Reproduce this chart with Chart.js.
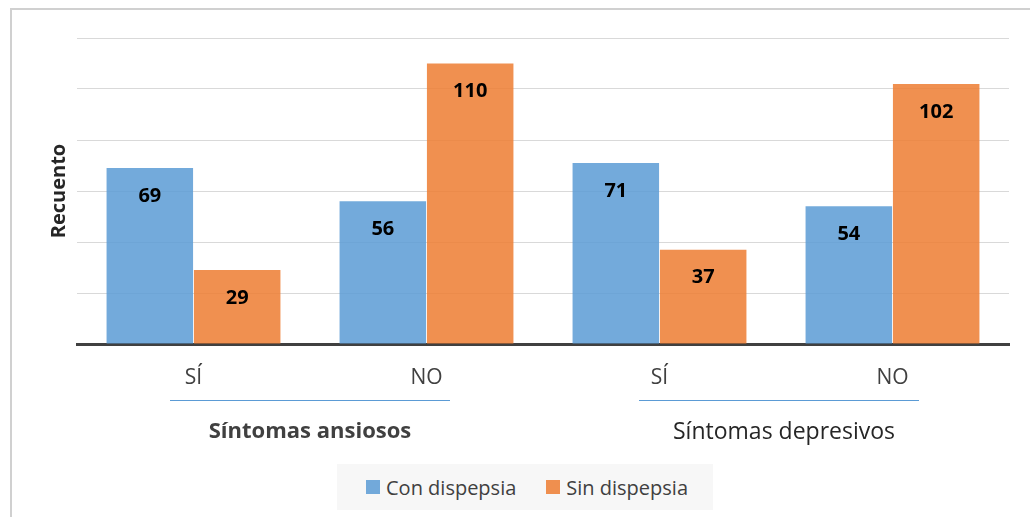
<!DOCTYPE html>
<html>
<head>
<meta charset="utf-8">
<script src="https://cdn.jsdelivr.net/npm/chart.js@4/dist/chart.umd.min.js"></script>
<style>
  html, body { margin: 0; padding: 0; background: #ffffff; }
  #wrap { position: relative; width: 1030px; height: 517px; overflow: hidden; }
  #frame { position: absolute; left: 10px; top: 8px; width: 1040px; height: 540px; border: 2px solid #d0d0d0; box-sizing: border-box; }
  canvas { position: absolute; left: 0; top: 0; }
  #legend { position: absolute; left: 337px; top: 464px; width: 376px; height: 46px; background: #f7f7f7; box-sizing: border-box; padding-left: 29px;
            display: flex; align-items: center; justify-content: flex-start; font-family: "Open Sans", sans-serif; font-size: 20px; color: #404040; white-space: nowrap; }
  .item { display: flex; align-items: center; margin-right: 30px; flex-shrink: 0; white-space: nowrap; }
  .sw { width: 14px; height: 14px; margin-right: 6px; flex-shrink: 0; }
</style>
</head>
<body>
<div id="wrap">
  <div id="frame"></div>
  <canvas id="c" width="1030" height="517"></canvas>
  <div id="legend"></div>
</div>
<script>
const categories = ['SÍ', 'NO', 'SÍ', 'NO'];
const groupLabels = ['Síntomas ansiosos', 'Síntomas depresivos'];
const seriesNames = ['Con dispepsia', 'Sin dispepsia'];
const conDispepsia = [69, 56, 71, 54];
const sinDispepsia = [29, 110, 37, 102];
const yTickValues = [0, 20, 40, 60, 80, 100, 120];
const axisTitle = 'Recuento';

const colors = ['rgba(91,155,213,0.85)', 'rgba(237,125,49,0.85)'];
const FONT = '"Open Sans", sans-serif';

const extras = {
  id: 'extras',
  afterDatasetsDraw(chart) {
    const ctx = chart.ctx;
    ctx.save();
    ctx.fillStyle = '#000000';
    ctx.font = 'bold 20px ' + FONT;
    ctx.textAlign = 'center';
    ctx.textBaseline = 'middle';
    chart.data.datasets.forEach((ds, i) => {
      chart.getDatasetMeta(i).data.forEach((bar, j) => {
        ctx.fillText(String(ds.data[j]), bar.x, bar.y + 28);
      });
    });
    ctx.restore();
  },
  afterDraw(chart) {
    const ctx = chart.ctx;
    const xs = chart.scales.x;
    const area = chart.chartArea;
    ctx.save();
    ctx.translate(59, (area.top + area.bottom) / 2);
    ctx.rotate(-Math.PI / 2);
    ctx.font = 'bold 20px ' + FONT;
    ctx.fillStyle = '#262626';
    ctx.textAlign = 'center';
    ctx.textBaseline = 'middle';
    ctx.fillText(axisTitle, 0, 0);
    ctx.restore();

    ctx.save();
    groupLabels.forEach((g, gi) => {
      const cx = (xs.getPixelForValue(gi * 2) + xs.getPixelForValue(gi * 2 + 1)) / 2;
      ctx.strokeStyle = '#5B9BD5';
      ctx.lineWidth = 1;
      ctx.beginPath();
      ctx.moveTo(cx - 140 + gi * 3, 400.5);
      ctx.lineTo(cx + 140 + gi * 3, 400.5);
      ctx.stroke();
      ctx.font = (gi === 0 ? 'bold 22px ' : '23px ') + FONT;
      ctx.fillStyle = gi === 0 ? '#404040' : '#262626';
      ctx.textAlign = 'center';
      ctx.textBaseline = 'middle';
      ctx.fillText(g, cx + gi * 8, 432);
    });
    ctx.restore();
  }
};

const chart = new Chart(document.getElementById('c'), {
  type: 'bar',
  data: {
    labels: categories,
    datasets: [
      { label: seriesNames[0], data: conDispepsia, backgroundColor: colors[0], borderWidth: 0 },
      { label: seriesNames[1], data: sinDispepsia, backgroundColor: colors[1], borderWidth: 0 }
    ]
  },
  options: {
    responsive: false,
    animation: false,
    devicePixelRatio: 1,
    layout: { padding: { top: 38, right: 21, left: 0, bottom: 0 } },
    datasets: { bar: { categoryPercentage: 0.75, barPercentage: 0.99 } },
    plugins: { legend: { display: false }, tooltip: { enabled: false } },
    scales: {
      x: {
        grid: { display: false, drawTicks: false },
        border: { display: true, color: '#404040', width: 3 },
        ticks: { color: '#404040', font: { family: FONT, size: 21 }, padding: 21 },
        afterFit(s) { s.height = 517 - 344; }
      },
      y: {
        min: 0, max: 120,
        afterBuildTicks(s) { s.ticks = yTickValues.map(v => ({ value: v })); },
        ticks: { display: false },
        grid: { color: '#d9d9d9', lineWidth: 1, drawTicks: false },
        border: { display: false },
        afterFit(s) { s.width = 77; }
      }
    }
  },
  plugins: [extras]
});

const legend = document.getElementById('legend');
seriesNames.forEach((n, i) => {
  const it = document.createElement('div');
  it.className = 'item';
  const sw = document.createElement('div');
  sw.className = 'sw';
  sw.style.background = colors[i];
  const t = document.createElement('span');
  t.textContent = n;
  it.appendChild(sw); it.appendChild(t);
  legend.appendChild(it);
});
</script>
</body>
</html>
